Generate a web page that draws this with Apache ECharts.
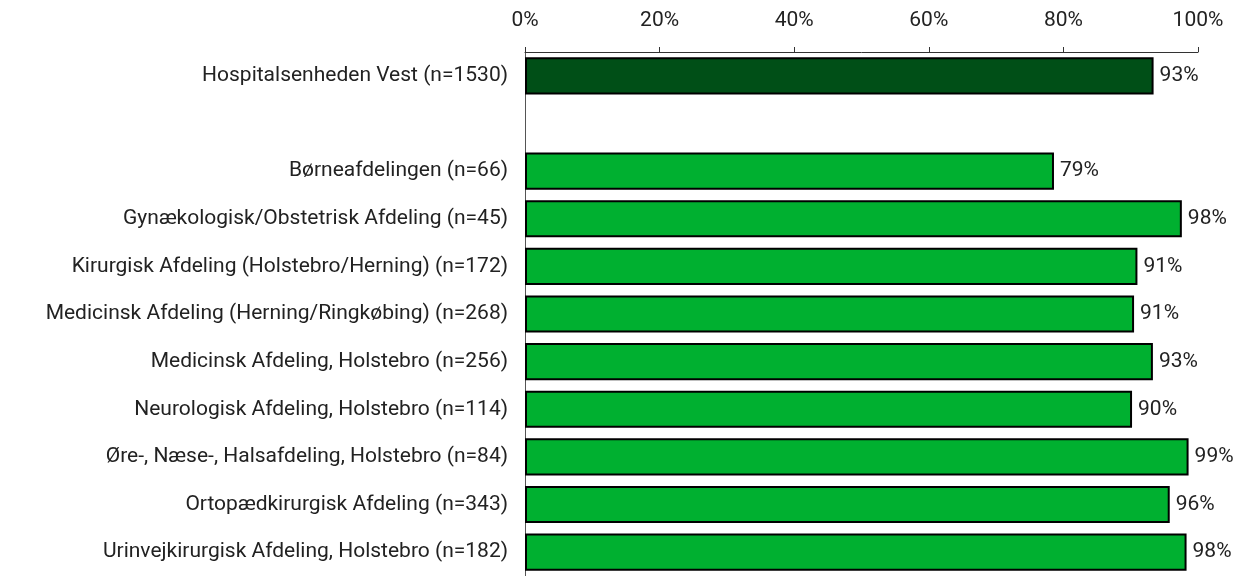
<!DOCTYPE html>
<html>
<head>
<meta charset="utf-8">
<script src="https://cdn.jsdelivr.net/npm/echarts@6/dist/echarts.min.js"></script>
<style>
  html, body { margin: 0; padding: 0; background: #fff; }
  #chart { width: 1248px; height: 576px; }
</style>
</head>
<body>
<div id="chart"></div>
<script>
const categories = [
  'Hospitalsenheden Vest (n=1530)',
  '',
  'Børneafdelingen (n=66)',
  'Gynækologisk/Obstetrisk Afdeling (n=45)',
  'Kirurgisk Afdeling (Holstebro/Herning) (n=172)',
  'Medicinsk Afdeling (Herning/Ringkøbing) (n=268)',
  'Medicinsk Afdeling, Holstebro (n=256)',
  'Neurologisk Afdeling, Holstebro (n=114)',
  'Øre-, Næse-, Halsafdeling, Holstebro (n=84)',
  'Ortopædkirurgisk Afdeling (n=343)',
  'Urinvejkirurgisk Afdeling, Holstebro (n=182)'
]
const values = [93.4, null, 78.6, 97.6, 91.0, 90.5, 93.3, 90.2, 98.6, 95.8, 98.3]
const tickLabels = ['0%', '20%', '40%', '60%', '80%', '100%']

const font = 'Roboto'
const chart = echarts.init(document.getElementById('chart'))

const option = {
  animation: false,
  grid: { left: 525, right: 50, top: 52, bottom: -7 },
  xAxis: {
    type: 'value',
    position: 'top',
    min: 0,
    max: 100,
    interval: 20,
    axisLine: { show: true, lineStyle: { color: '#333', width: 1 } },
    axisTick: { show: true, length: 5, lineStyle: { color: '#333' } },
    splitLine: { show: false },
    axisLabel: {
      margin: 21,
      color: '#222',
      fontFamily: font,
      fontSize: 21,
      formatter: (v) => tickLabels[v / 20]
    }
  },
  yAxis: {
    type: 'category',
    inverse: true,
    data: categories,
    axisLine: { show: true, lineStyle: { color: '#555', width: 1 } },
    axisTick: { show: false },
    axisLabel: {
      margin: 17,
      color: '#222',
      fontFamily: font,
      fontSize: 21
    }
  },
  series: [{
    type: 'bar',
    barCategoryGap: '22%',
    data: values.map((v, i) => ({
      value: v,
      itemStyle: { color: i === 0 ? '#004f17' : '#00b030' }
    })),
    itemStyle: { borderColor: '#000', borderWidth: 2 },
    label: {
      show: true,
      position: 'right',
      distance: 6,
      color: '#222',
      fontFamily: font,
      fontSize: 21,
      formatter: (p) => p.value == null ? '' : Math.round(p.value) + '%'
    }
  }]
}
chart.setOption(option)
</script>
</body>
</html>
